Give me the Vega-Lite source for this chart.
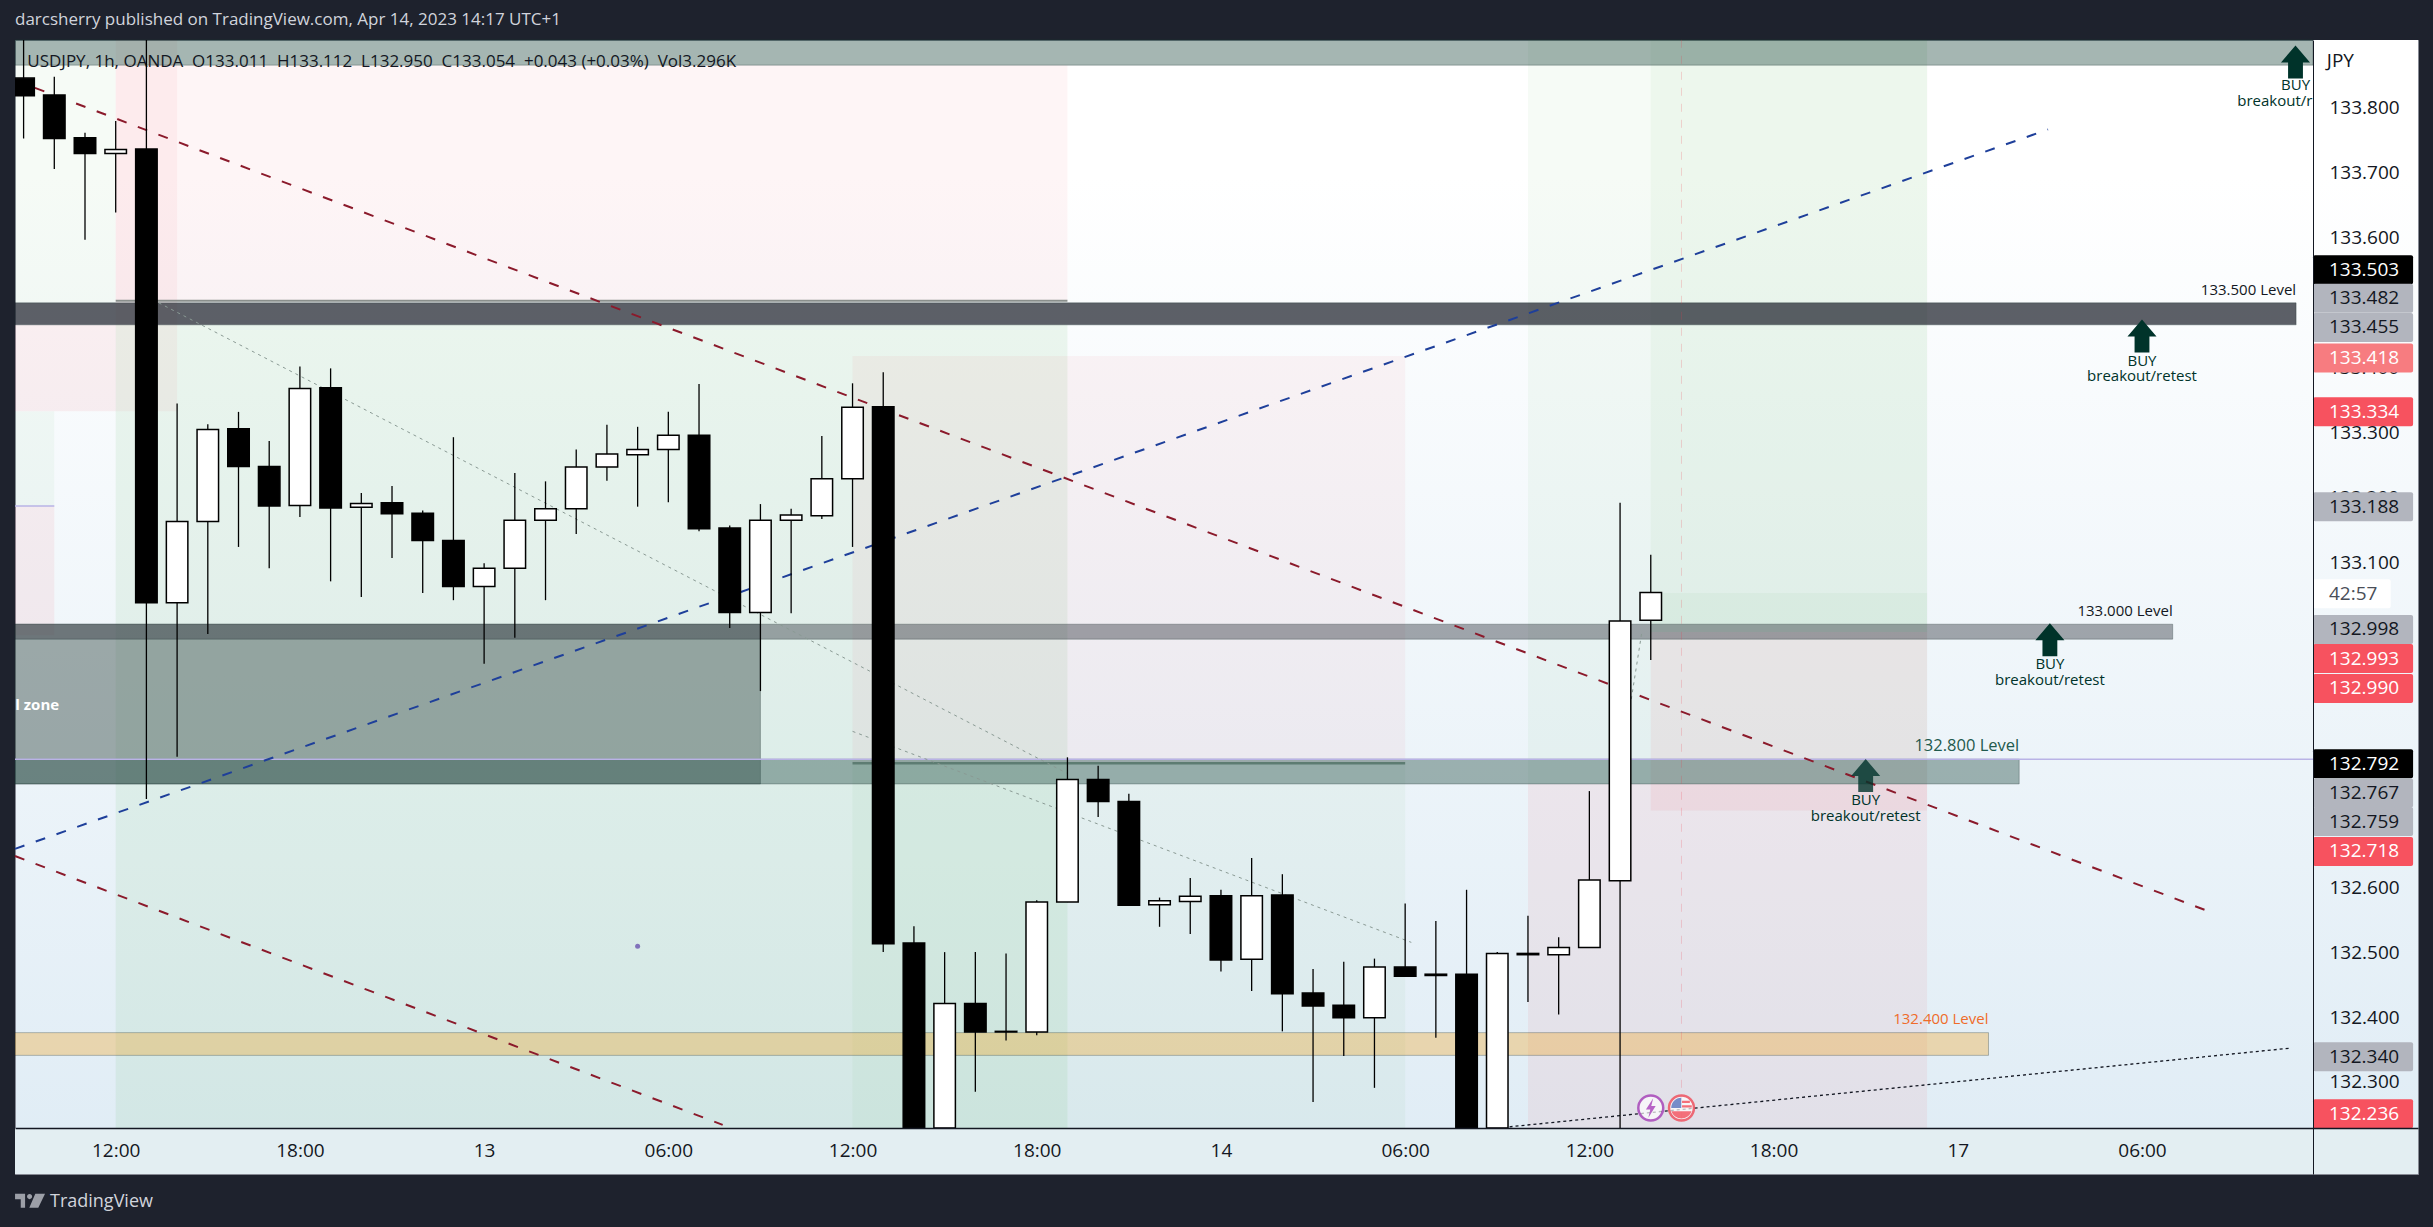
{
"$schema":"https://vega.github.io/schema/vega-lite/v6.json",
"width":2403,"height":1134,"autosize":"none",
"padding":{"left":15,"top":40,"right":15,"bottom":53},
"background":"#1e222d",
"title":{"text":"darcsherry published on TradingView.com, Apr 14, 2023 14:17 UTC+1","anchor":"start","frame":"group","font":"Open Sans","fontSize":17,"fontWeight":"normal","color":"#d1d4dc","offset":10},
"view":{"stroke":"#868993","strokeWidth":1,"fill":{"gradient":"linear","x1":0,"y1":0,"x2":0,"y2":1,"stops":[{"offset":0,"color":"#ffffff"},{"offset":0.12,"color":"#ffffff"},{"offset":1,"color":"#dfecf5"}]}},
"config":{"text":{"font":"Open Sans"},"axis":{"grid":false,"ticks":false,"title":null}},
"resolve":{"scale":{"color":"independent"}},
"encoding":{
 "x":{"field":"t","type":"quantitative","title":null,"scale":{"domain":[-3.28,74.99],"nice":false,"zero":false,"padding":0},
  "axis":{"orient":"bottom","offset":-46,"values":[0,6,12,18,24,30,36,42,48,54,60,66],"labelExpr":"['12:00','18:00','13','06:00','12:00','18:00','14','06:00','12:00','18:00','17','06:00'][datum.value/6]","labelFont":"Open Sans","labelFontSize":19,"labelColor":"#131722","labelPadding":22,"labelBaseline":"middle","labelOverlap":false,"labelFlush":false,"labelBound":false,"domainColor":"#131722","domainWidth":1.5,"zindex":1}},
 "y":{"field":"p","type":"quantitative","title":null,"scale":{"domain":[132.1583,133.9047],"nice":false,"zero":false,"padding":0},
  "axis":{"orient":"right","offset":-105,"values":[133.8,133.7,133.6,133.3,133.1,132.6,132.5,132.4,132.3],"format":".3f","labelFont":"Open Sans","labelFontSize":19,"labelColor":"#131722","labelPadding":16,"labelOverlap":false,"labelFlush":false,"labelBound":false,"domainColor":"#131722","domainWidth":1,"zindex":1}}
},
"layer":[
{"data":{"values":[
 {"t":-3.28,"t2":0,"p":133.866,"p2":133.5,"kind":"greenLight"},
 {"t":0,"t2":31,"p":133.866,"p2":133.503,"kind":"redLight"},
 {"t":0,"t2":31,"p":133.466,"p2":132.229,"kind":"green"},
 {"t":0,"t2":2,"p":133.905,"p2":133.333,"kind":"redLight"},
 {"t":-3.28,"t2":0,"p":133.466,"p2":133.333,"kind":"red"},
 {"t":-3.28,"t2":-2,"p":133.333,"p2":133.187,"kind":"greenLight"},
 {"t":-3.28,"t2":-2,"p":133.187,"p2":132.988,"kind":"red"},
 {"t":24,"t2":42,"p":133.418,"p2":132.791,"kind":"redLight"},
 {"t":24,"t2":42,"p":132.791,"p2":132.229,"kind":"greenLight"},
 {"t":46,"t2":59,"p":133.905,"p2":132.759,"kind":"greenLight"},
 {"t":46,"t2":59,"p":132.759,"p2":132.229,"kind":"red"},
 {"t":50,"t2":59,"p":133.905,"p2":132.993,"kind":"greenLight"},
 {"t":50,"t2":59,"p":133.053,"p2":132.993,"kind":"greenLight"},
 {"t":50,"t2":59,"p":132.993,"p2":132.718,"kind":"red"}
 ]},
 "mark":{"type":"rect"},
 "encoding":{"x2":{"field":"t2"},"y2":{"field":"p2"},
  "color":{"field":"kind","type":"nominal","legend":null,"scale":{"domain":["green","greenLight","red","redLight"],"range":["rgba(76,175,80,0.09)","rgba(76,175,80,0.05)","rgba(242,54,69,0.07)","rgba(242,54,69,0.05)"]}}}
},
{"data":{"values":[
 {"t":-3.28,"t2":71.57,"p":133.905,"p2":133.866,"kind":"teal"},
 {"t":-3.28,"t2":21,"p":133.005,"p2":132.759,"kind":"box"},
 {"t":-3.28,"t2":71.02,"p":133.5,"p2":133.466,"kind":"dark"},
 {"t":-3.28,"t2":67,"p":133.005,"p2":132.982,"kind":"grey"},
 {"t":-3.28,"t2":62,"p":132.797,"p2":132.759,"kind":"level"},
 {"t":-3.28,"t2":61,"p":132.376,"p2":132.341,"kind":"orange"}
 ]},
 "mark":{"type":"rect","stroke":"rgba(30,50,50,0.3)","strokeWidth":1},
 "encoding":{"x2":{"field":"t2"},"y2":{"field":"p2"},
  "color":{"field":"kind","type":"nominal","legend":null,"scale":{"domain":["teal","box","dark","grey","level","orange"],"range":["rgba(18,64,52,0.38)","rgba(70,90,85,0.5)","rgba(30,34,45,0.72)","rgba(45,50,60,0.42)","rgba(40,80,75,0.42)","rgba(240,165,40,0.35)"]}}}
},
{"data":{"values":[{"t":24,"t2":42,"p":132.791,"p2":132.791}]},
 "mark":{"type":"rule","color":"#5d7c72","strokeWidth":2.5},"encoding":{"x2":{"field":"t2"},"y2":{"field":"p2"}}},
{"data":{"values":[{"t":-3.28,"t2":71.57,"p":132.797,"p2":132.797},{"t":-3.28,"t2":-2,"p":133.187,"p2":133.187}]},
 "mark":{"type":"rule","color":"#b9b3e6","strokeWidth":1.5},"encoding":{"x2":{"field":"t2"},"y2":{"field":"p2"}}},
{"data":{"values":[{"t":0,"t2":31,"p":133.503,"p2":133.503}]},
 "mark":{"type":"rule","color":"#8a8f8c","strokeWidth":2},"encoding":{"x2":{"field":"t2"},"y2":{"field":"p2"}}},
{"data":{"values":[{"t":1.4,"t2":31,"p":133.5,"p2":132.775},{"t":24,"t2":42.2,"p":132.84,"p2":132.515},{"t":49.7,"t2":49.35,"p":132.99,"p2":132.885}]},
 "mark":{"type":"rule","color":"#8a9a94","strokeWidth":1,"strokeDash":[3,4]},"encoding":{"x2":{"field":"t2"},"y2":{"field":"p2"}}},
{"data":{"values":[{"t":-2.63,"t2":68.05,"p":133.831,"p2":132.565},{"t":-3.28,"t2":19.77,"p":132.648,"p2":132.234}]},
 "mark":{"type":"rule","color":"#8b1a2b","strokeWidth":2,"strokeDash":[10,12]},"encoding":{"x2":{"field":"t2"},"y2":{"field":"p2"}}},
{"data":{"values":[{"t":-3.28,"t2":62.94,"p":132.659,"p2":133.767}]},
 "mark":{"type":"rule","color":"#1e3f9a","strokeWidth":2,"strokeDash":[10,12]},"encoding":{"x2":{"field":"t2"},"y2":{"field":"p2"}}},
{"data":{"values":[{"t":45.4,"t2":70.8,"p":132.231,"p2":132.352}]},
 "mark":{"type":"rule","color":"#131722","strokeWidth":1.3,"strokeDash":[3,3]},"encoding":{"x2":{"field":"t2"},"y2":{"field":"p2"}}},
{"data":{"values":[{"t":51,"p":133.905,"p2":132.229}]},
 "mark":{"type":"rule","color":"rgba(242,54,69,0.2)","strokeWidth":1,"strokeDash":[8,8]},"encoding":{"y2":{"field":"p2"}}},
{"data":{"values":[{"t":17,"p":132.509}]},
 "mark":{"type":"point","shape":"circle","filled":true,"size":25,"color":"#5b3ea8"}},
{"data":{"values":[{"t":66,"p":133.449},{"t":63,"p":132.981},{"t":71,"p":133.871}]},
 "mark":{"type":"point","filled":true,"size":1089,"opacity":1,"color":"#00332a","shape":"M0,-1 L0.88,0.03 L0.45,0.03 L0.45,1 L-0.45,1 L-0.45,0.03 L-0.88,0.03 Z"}},
{"data":{"values":[{"t":57,"p":132.772}]},
 "mark":{"type":"point","filled":true,"size":1089,"opacity":0.8,"color":"#00332a","shape":"M0,-1 L0.88,0.03 L0.45,0.03 L0.45,1 L-0.45,1 L-0.45,0.03 L-0.88,0.03 Z"}},
{"data":{"values":[
 {"t":66,"p":133.411,"label":"BUY"},{"t":66,"p":133.387,"label":"breakout/retest"},
 {"t":63,"p":132.943,"label":"BUY"},{"t":63,"p":132.919,"label":"breakout/retest"},
 {"t":57,"p":132.734,"label":"BUY"},{"t":57,"p":132.71,"label":"breakout/retest"},
 {"t":71,"p":133.835,"label":"BUY"}]},
 "mark":{"type":"text","fontSize":15,"color":"#00332a","baseline":"middle","align":"center"},
 "encoding":{"text":{"field":"label"}}},
{"data":{"values":[{"t":71.55,"p":133.811,"label":"breakout/r"}]},
 "mark":{"type":"text","fontSize":15,"color":"#00332a","baseline":"middle","align":"right"},
 "encoding":{"text":{"field":"label"}}},
{"data":{"values":[
 {"t":71.02,"p":133.519,"label":"133.500 Level","kind":"black"},
 {"t":67,"p":133.025,"label":"133.000 Level","kind":"black"},
 {"t":62,"p":132.817,"label":"132.800 Level","kind":"teal"},
 {"t":61,"p":132.397,"label":"132.400 Level","kind":"orange"}]},
 "mark":{"type":"text","baseline":"middle","align":"right"},
 "encoding":{"text":{"field":"label"},"size":{"condition":{"test":"datum.kind=='teal'","value":16.5},"value":15},"color":{"field":"kind","type":"nominal","legend":null,"scale":{"domain":["black","teal","orange"],"range":["#131722","#1f5a4d","#ef6c2a"]}}}},
{"data":{"values":[{"t":-3.27,"p":132.88,"label":"l zone"}]},
 "mark":{"type":"text","fontSize":15,"fontWeight":"bold","color":"#ffffff","baseline":"middle","align":"left"},
 "encoding":{"text":{"field":"label"}}},
{"data":{"values":[{"t":-2.88,"p":133.871,"label":"USDJPY, 1h, OANDA\u00a0\u00a0O133.011\u00a0\u00a0H133.112\u00a0\u00a0L132.950\u00a0\u00a0C133.054\u00a0\u00a0+0.043 (+0.03%)\u00a0\u00a0Vol3.296K"}]},
 "mark":{"type":"text","fontSize":17,"color":"#131722","baseline":"middle","align":"left"},
 "encoding":{"text":{"field":"label"}}},
{"data":{"values":[
{"t":-3,"open":133.846,"high":133.905,"low":133.753,"close":133.819},
{"t":-2,"open":133.82,"high":133.848,"low":133.706,"close":133.753},
{"t":-1,"open":133.754,"high":133.762,"low":133.597,"close":133.73},
{"t":0,"open":133.73,"high":133.78,"low":133.639,"close":133.736},
{"t":1,"open":133.737,"high":133.905,"low":132.736,"close":133.038},
{"t":2,"open":133.038,"high":133.345,"low":132.801,"close":133.163},
{"t":3,"open":133.163,"high":133.313,"low":132.99,"close":133.305},
{"t":4,"open":133.306,"high":133.332,"low":133.124,"close":133.248},
{"t":5,"open":133.248,"high":133.287,"low":133.091,"close":133.187},
{"t":6,"open":133.188,"high":133.402,"low":133.17,"close":133.368},
{"t":7,"open":133.369,"high":133.399,"low":133.071,"close":133.184},
{"t":8,"open":133.185,"high":133.207,"low":133.047,"close":133.191},
{"t":9,"open":133.192,"high":133.218,"low":133.107,"close":133.175},
{"t":10,"open":133.176,"high":133.18,"low":133.053,"close":133.134},
{"t":11,"open":133.134,"high":133.293,"low":133.042,"close":133.063},
{"t":12,"open":133.063,"high":133.099,"low":132.944,"close":133.091},
{"t":13,"open":133.091,"high":133.238,"low":132.984,"close":133.165},
{"t":14,"open":133.165,"high":133.225,"low":133.042,"close":133.183},
{"t":15,"open":133.183,"high":133.274,"low":133.144,"close":133.247},
{"t":16,"open":133.247,"high":133.312,"low":133.226,"close":133.267},
{"t":17,"open":133.266,"high":133.309,"low":133.186,"close":133.274},
{"t":18,"open":133.274,"high":133.332,"low":133.193,"close":133.296},
{"t":19,"open":133.296,"high":133.375,"low":133.148,"close":133.152},
{"t":20,"open":133.153,"high":133.157,"low":132.999,"close":133.023},
{"t":21,"open":133.023,"high":133.19,"low":132.902,"close":133.165},
{"t":22,"open":133.165,"high":133.183,"low":133.022,"close":133.173},
{"t":23,"open":133.172,"high":133.295,"low":133.167,"close":133.229},
{"t":24,"open":133.229,"high":133.376,"low":133.124,"close":133.339},
{"t":25,"open":133.34,"high":133.393,"low":132.5,"close":132.513},
{"t":26,"open":132.514,"high":132.54,"low":132.229,"close":132.229},
{"t":27,"open":132.229,"high":132.5,"low":132.229,"close":132.421},
{"t":28,"open":132.421,"high":132.5,"low":132.285,"close":132.377},
{"t":29,"open":132.378,"high":132.498,"low":132.364,"close":132.377},
{"t":30,"open":132.377,"high":132.58,"low":132.372,"close":132.577},
{"t":31,"open":132.577,"high":132.8,"low":132.577,"close":132.766},
{"t":32,"open":132.766,"high":132.787,"low":132.708,"close":132.732},
{"t":33,"open":132.732,"high":132.744,"low":132.572,"close":132.572},
{"t":34,"open":132.573,"high":132.584,"low":132.539,"close":132.579},
{"t":35,"open":132.578,"high":132.614,"low":132.528,"close":132.586},
{"t":36,"open":132.587,"high":132.596,"low":132.47,"close":132.488},
{"t":37,"open":132.489,"high":132.645,"low":132.44,"close":132.587},
{"t":38,"open":132.588,"high":132.62,"low":132.378,"close":132.436},
{"t":39,"open":132.437,"high":132.474,"low":132.269,"close":132.417},
{"t":40,"open":132.418,"high":132.485,"low":132.34,"close":132.399},
{"t":41,"open":132.399,"high":132.49,"low":132.291,"close":132.477},
{"t":42,"open":132.477,"high":132.575,"low":132.463,"close":132.463},
{"t":43,"open":132.466,"high":132.548,"low":132.368,"close":132.464},
{"t":44,"open":132.466,"high":132.596,"low":132.229,"close":132.229},
{"t":45,"open":132.229,"high":132.5,"low":132.229,"close":132.498},
{"t":46,"open":132.498,"high":132.556,"low":132.423,"close":132.496},
{"t":47,"open":132.496,"high":132.523,"low":132.404,"close":132.507},
{"t":48,"open":132.507,"high":132.748,"low":132.507,"close":132.611},
{"t":49,"open":132.61,"high":133.192,"low":132.229,"close":133.01},
{"t":50,"open":133.011,"high":133.112,"low":132.95,"close":133.054}
 ]},
 "layer":[
  {"mark":{"type":"rule","color":"#000000","strokeWidth":1.3,"clip":true},
   "encoding":{"y":{"field":"low","type":"quantitative","title":null},"y2":{"field":"high"}}},
  {"mark":{"type":"bar","size":21.5,"stroke":"#000000","strokeWidth":1.5,"clip":true,"orient":"vertical"},
   "encoding":{"y":{"field":"open","type":"quantitative","title":null},"y2":{"field":"close"},
    "color":{"condition":{"test":"datum.close>=datum.open","value":"#ffffff"},"value":"#000000"}}}
 ]},
{"data":{"values":[{"t":50,"p":132.26}]},
 "mark":{"type":"point","shape":"circle","filled":true,"size":620,"color":"#ffffff","stroke":"#9c27b0","strokeWidth":2.5}},
{"data":{"values":[{"t":50,"p":132.26}]},
 "mark":{"type":"point","filled":true,"size":380,"color":"#9c27b0","shape":"M0.25,-1 L-0.5,0.15 L-0.05,0.15 L-0.25,1 L0.5,-0.2 L0.05,-0.2 Z"}},
{"data":{"values":[{"t":51,"p":132.26}]},
 "mark":{"type":"point","shape":"circle","filled":true,"size":620,"color":"#ffffff","stroke":"#f23645","strokeWidth":2.5}},
{"data":{"values":[{"t":51,"p":132.26}]},
 "mark":{"type":"point","filled":true,"size":500,"color":"#f23645","shape":"M-0.9,0.3 L0.9,0.3 A0.95,0.95 0 0 1 -0.9,0.3 Z M0.05,-0.65 L0.75,-0.65 L0.75,-0.45 L0.05,-0.45 Z M0.05,-0.25 L0.92,-0.25 L0.92,-0.05 L0.05,-0.05 Z"}},
{"data":{"values":[{"t":51,"p":132.26}]},
 "mark":{"type":"point","filled":true,"size":500,"color":"#3f5fb5","shape":"M-0.92,0 L-0.02,0 L-0.02,-0.92 A0.92,0.92 0 0 0 -0.92,0 Z"}},
{"data":{"values":[{"t":71.57,"t2":74.99,"p":133.9047,"p2":132.1583}]},
 "mark":{"type":"rect","fill":{"gradient":"linear","x1":0,"y1":0,"x2":0,"y2":1,"stops":[{"offset":0,"color":"#ffffff"},{"offset":0.12,"color":"#ffffff"},{"offset":1,"color":"#dfecf5"}]}},
 "encoding":{"x2":{"field":"t2"},"y2":{"field":"p2"}}},
{"data":{"values":[{"t":-3.28,"t2":74.99,"p":132.2292,"p2":132.1583}]},
 "mark":{"type":"rect","color":"#e3eef2"},
 "encoding":{"x2":{"field":"t2"},"y2":{"field":"p2"}}},
{"data":{"values":[{"t":72.09,"p":133.4,"label":"133.400"},{"t":72.09,"p":133.2,"label":"133.200"},{"t":72.02,"p":133.873,"label":"JPY"}]},
 "mark":{"type":"text","fontSize":19,"color":"#131722","baseline":"middle","align":"left"},
 "encoding":{"text":{"field":"label"}}},
{"data":{"values":[
 {"t":71.57,"t2":74.83,"p":133.551,"kind":"last"},{"t":71.57,"t2":74.83,"p":133.507,"kind":"grey"},{"t":71.57,"t2":74.83,"p":133.462,"kind":"grey"},
 {"t":71.57,"t2":74.83,"p":133.415,"kind":"pink"},{"t":71.57,"t2":74.83,"p":133.332,"kind":"red"},{"t":71.57,"t2":74.83,"p":133.186,"kind":"grey"},
 {"t":71.57,"t2":74.83,"p":132.997,"kind":"grey"},{"t":71.57,"t2":74.83,"p":132.952,"kind":"red"},{"t":71.57,"t2":74.83,"p":132.906,"kind":"red"},
 {"t":71.57,"t2":74.83,"p":132.79,"kind":"last"},{"t":71.57,"t2":74.83,"p":132.745,"kind":"grey"},{"t":71.57,"t2":74.83,"p":132.701,"kind":"grey"},
 {"t":71.57,"t2":74.83,"p":132.655,"kind":"red"},{"t":71.57,"t2":74.83,"p":132.339,"kind":"grey"},{"t":71.57,"t2":74.83,"p":132.251,"kind":"red"},
 {"t":71.57,"t2":74.1,"p":133.052,"kind":"count"}]},
 "mark":{"type":"bar","orient":"horizontal","size":29,"cornerRadiusEnd":2},
 "encoding":{"x2":{"field":"t2"},
  "color":{"field":"kind","type":"nominal","legend":null,"scale":{"domain":["last","grey","pink","red","count"],"range":["#000000","#b2b5be","#f77c80","#f7525f","#ffffff"]}}}},
{"data":{"values":[
 {"t":71.57,"p":133.551,"label":"133.503","kind":"last"},{"t":71.57,"p":133.507,"label":"133.482","kind":"grey"},{"t":71.57,"p":133.462,"label":"133.455","kind":"grey"},
 {"t":71.57,"p":133.415,"label":"133.418","kind":"pink"},{"t":71.57,"p":133.332,"label":"133.334","kind":"red"},{"t":71.57,"p":133.186,"label":"133.188","kind":"grey"},
 {"t":71.57,"p":132.997,"label":"132.998","kind":"grey"},{"t":71.57,"p":132.952,"label":"132.993","kind":"red"},{"t":71.57,"p":132.906,"label":"132.990","kind":"red"},
 {"t":71.57,"p":132.79,"label":"132.792","kind":"last"},{"t":71.57,"p":132.745,"label":"132.767","kind":"grey"},{"t":71.57,"p":132.701,"label":"132.759","kind":"grey"},
 {"t":71.57,"p":132.655,"label":"132.718","kind":"red"},{"t":71.57,"p":132.339,"label":"132.340","kind":"grey"},{"t":71.57,"p":132.251,"label":"132.236","kind":"red"},
 {"t":71.57,"p":133.052,"label":"42:57","kind":"count"}]},
 "mark":{"type":"text","fontSize":19,"baseline":"middle","align":"left","dx":16},
 "encoding":{"text":{"field":"label"},
  "color":{"field":"kind","type":"nominal","legend":null,"scale":{"domain":["last","grey","pink","red","count"],"range":["#ffffff","#131722","#ffffff","#ffffff","#4a4e58"]}}}},
{"data":{"values":[{"t":-2.79,"p":132.117}]},
 "mark":{"type":"point","filled":true,"size":900,"color":"#d1d4dc","shape":"M-1,-0.47 L-0.33,-0.47 L-0.33,0.47 L-0.62,0.47 L-0.62,-0.1 L-1,-0.1 Z M-0.2,-0.28 A0.17,0.17 0 1 0 0.14,-0.28 A0.17,0.17 0 1 0 -0.2,-0.28 Z M0.35,-0.47 L1,-0.47 L0.55,0.47 L-0.05,0.47 Z"}},
{"data":{"values":[{"t":-2.14,"p":132.115,"label":"TradingView"}]},
 "mark":{"type":"text","fontSize":18,"color":"#d1d4dc","baseline":"middle","align":"left"},
 "encoding":{"text":{"field":"label"}}}
]
}
